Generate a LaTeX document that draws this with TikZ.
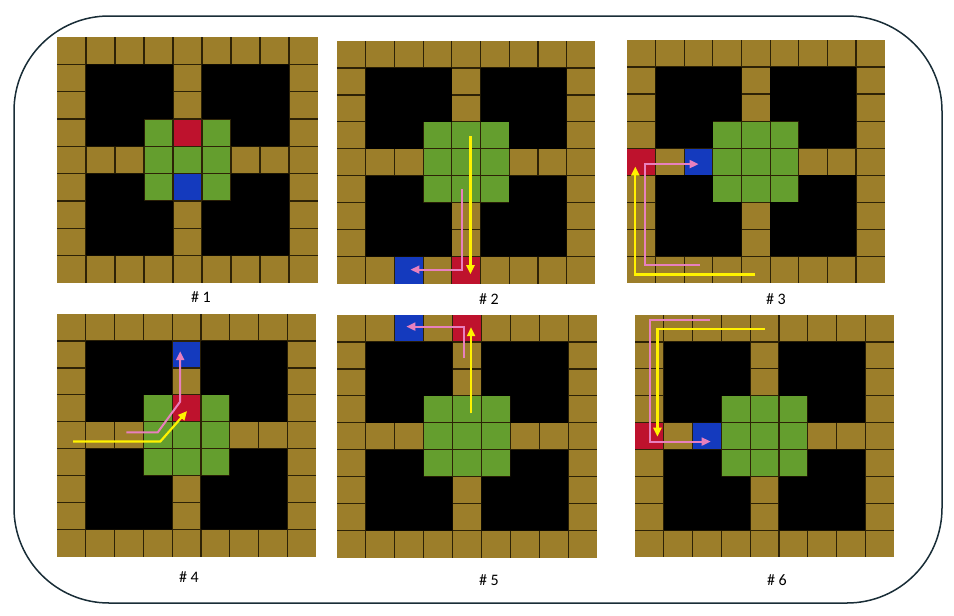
\documentclass[tikz,border=0pt]{standalone}
\usepackage{fontspec}
\setmainfont{Carlito}
\usetikzlibrary{arrows.meta}
\definecolor{tile}{RGB}{156,126,42}
\definecolor{goal}{RGB}{100,158,46}
\definecolor{redbox}{RGB}{190,18,45}
\definecolor{bluebox}{RGB}{20,58,190}
\definecolor{gridline}{RGB}{45,34,6}
\definecolor{pinkpath}{RGB}{232,128,190}
\definecolor{frame}{RGB}{25,45,55}
\newcommand{\board}[2]{%
	\fill[tile] (0,0) rectangle (9,9);
	\fill[goal] (3,3) rectangle (6,6);
	\fill[redbox] (#1) rectangle ++(1,1);
	\fill[bluebox] (#2) rectangle ++(1,1);
	\foreach \i in {1,...,8} {
		\draw[gridline, line width=1.2pt] (\i,0) -- (\i,9);
		\draw[gridline, line width=1.2pt] (0,\i) -- (9,\i);
	}
	\fill[black] (1,1) rectangle (4,3) (1,3) rectangle (3,4) (5,1) rectangle (8,3) (6,3) rectangle (8,4)
		(1,5) rectangle (3,6) (1,6) rectangle (4,8) (6,5) rectangle (8,6) (5,6) rectangle (8,8);
}
\tikzset{
	ypath/.style={yellow, line width=2.2pt, -{Triangle[length=9pt,width=8pt]}},
	ppath/.style={pinkpath, line width=2pt, -{Triangle[length=9pt,width=8pt]}},
	lbl/.style={font=\fontsize{16}{19}\selectfont}
}
\begin{document}
\begin{tikzpicture}[x=1pt,y=-1pt]
	\useasboundingbox (0,0) rectangle (954,616);
	\draw[frame, line width=1.5pt, rounded corners=95pt] (14,16) rectangle (942,603);
	\begin{scope}[xshift=57pt,yshift=-37pt,x=29pt,y=-27.33pt]
		\board{4,3}{4,5}
	\end{scope}
	\begin{scope}[xshift=337pt,yshift=-41pt,x=28.7pt,y=-26.96pt]
		\board{4,8}{2,8}
		\draw[ppath] (4.35,5.5) -- (4.35,8.48) -- (2.56,8.48);
		\draw[ypath] (4.65,3.53) -- (4.65,8.65);
	\end{scope}
	\begin{scope}[xshift=627pt,yshift=-40pt,x=28.63pt,y=-27.04pt]
		\board{0,4}{2,4}
		\draw[ppath] (2.54,8.32) -- (0.62,8.32) -- (0.62,4.59) -- (2.5,4.59);
		\draw[ypath] (4.48,8.67) -- (0.29,8.67) -- (0.29,4.68);
	\end{scope}
	\begin{scope}[xshift=57pt,yshift=-314pt,x=28.78pt,y=-26.96pt]
		\board{4,3}{4,1}
		\draw[ppath] (2.41,4.39) -- (3.5,4.39) -- (4.28,3.25) -- (4.28,1.38);
		\draw[ypath] (0.56,4.73) -- (3.59,4.73) -- (4.52,3.6);
	\end{scope}
	\begin{scope}[xshift=337pt,yshift=-315pt,x=28.89pt,y=-26.96pt]
		\board{4,0}{2,0}
		\draw[ppath] (4.38,1.58) -- (4.38,0.43) -- (2.4,0.43);
		\draw[ypath] (4.64,3.65) -- (4.64,0.45);
	\end{scope}
	\begin{scope}[xshift=635pt,yshift=-315pt,x=28.78pt,y=-26.93pt]
		\board{0,4}{2,4}
		\draw[ppath] (2.61,0.19) -- (0.52,0.19) -- (0.52,4.7) -- (2.63,4.7);
		\draw[ypath] (4.52,0.52) -- (0.78,0.52) -- (0.78,4.52);
	\end{scope}
	\node[lbl] (lab1) at (201,297) {\# 1};
	\node[lbl] (lab2) at (489,299) {\# 2};
	\node[lbl] (lab3) at (776,299) {\# 3};
	\node[lbl] (lab4) at (189,577) {\# 4};
	\node[lbl] (lab5) at (489,580) {\# 5};
	\node[lbl] (lab6) at (777,580) {\# 6};
\end{tikzpicture}
\end{document}
